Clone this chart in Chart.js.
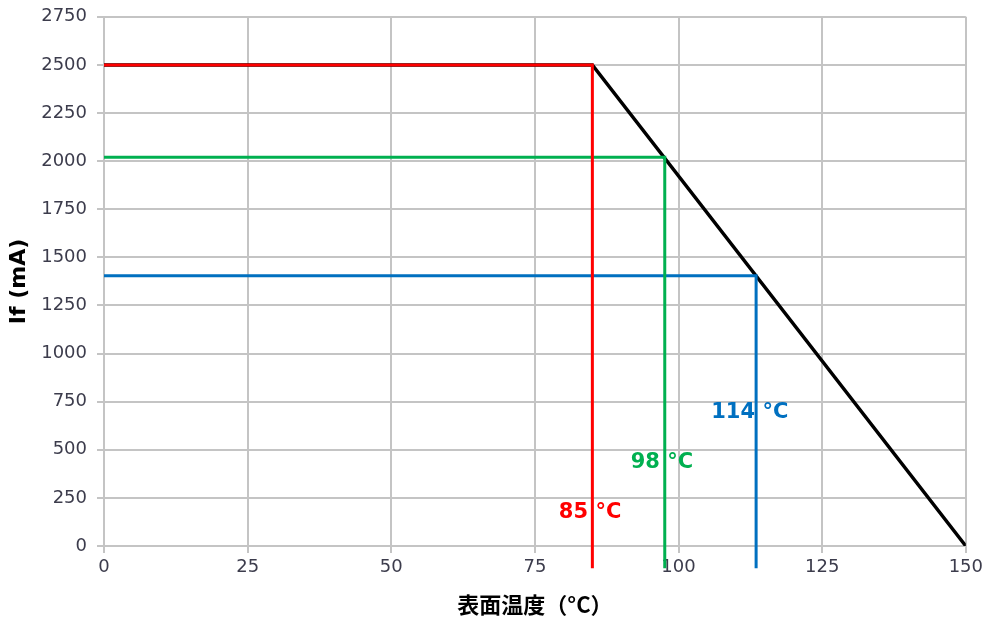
<!DOCTYPE html>
<html>
<head>
<meta charset="utf-8">
<script src="https://cdn.jsdelivr.net/npm/chart.js@4.4.1/dist/chart.umd.min.js"></script>
<style>
  html, body { margin: 0; padding: 0; background: #fff; overflow: hidden; }
  #page { width: 985px; height: 618px; position: relative; overflow: hidden; }
  #wrap { width: 987px; height: 622px; position: absolute; left: 0; top: -4px; }
</style>
</head>
<body>
<div id="page"><div id="wrap"><canvas id="derating"></canvas></div></div>
<script>
// --- Data ---
const xTicks = [0, 25, 50, 75, 100, 125, 150];
const yTicks = [0, 250, 500, 750, 1000, 1250, 1500, 1750, 2000, 2250, 2500, 2750];

// derating curve (black)
const curveTemp = [0, 85, 150];
const curveCurrent = [2500, 2500, 0];

// read-off guides: horizontal at current, then drop to below axis
const guideTemp = [85, 97.6, 113.5];
const guideCurrent = [2500, 2020, 1405];
const guideColors = ['#ff0000', '#00b050', '#0070c0'];
const guideBottom = -115; // lines run a bit past the x axis

// labels next to the drops
const labelTexts = ['85 °C', '98 °C', '114 °C'];
const labelTemp = [84.6, 97.1, 112.4];
const labelCurrent = [176, 436, 695];

const gridCol = '#c4c4c4';
const tickCol = '#3c3c4c';
const fontFam = '"DejaVu Sans", "Noto Sans CJK JP", sans-serif';
const cjkFam = '"Noto Sans CJK JP", "DejaVu Sans", sans-serif';

const datasets = [];
guideTemp.forEach((t, i) => {
    datasets.push({
        data: [{ x: 0, y: guideCurrent[i] }, { x: t, y: guideCurrent[i] }, { x: t, y: guideBottom }],
        borderColor: guideColors[i],
        borderWidth: 3,
        pointRadius: 0,
        clip: false,
        order: i + 1
    });
});
datasets.push({
    data: curveTemp.map((t, i) => ({ x: t, y: curveCurrent[i] })),
    borderColor: '#000000',
    borderWidth: 3.5,
    pointRadius: 0,
    order: 9
});

const labelPlugin = {
    id: 'tempLabels',
    afterDatasetsDraw(chart) {
        const { ctx, scales: { x, y } } = chart;
        ctx.save();
        ctx.font = 'bold 21px ' + fontFam;
        ctx.textAlign = 'center';
        ctx.textBaseline = 'middle';
        labelTexts.forEach((txt, i) => {
            ctx.fillStyle = guideColors[i];
            ctx.fillText(txt, x.getPixelForValue(labelTemp[i]), y.getPixelForValue(labelCurrent[i]));
        });
        ctx.restore();
    }
};

new Chart(document.getElementById('derating'), {
    type: 'line',
    data: { datasets },
    plugins: [labelPlugin],
    options: {
        responsive: true,
        maintainAspectRatio: false,
        animation: false,
        layout: { padding: { left: 0, right: 17, top: 13, bottom: 0 } },
        plugins: { legend: { display: false }, tooltip: { enabled: false } },
        scales: {
            x: {
                type: 'linear',
                min: xTicks[0],
                max: xTicks[xTicks.length - 1],
                afterBuildTicks: s => { s.ticks = xTicks.map(v => ({ value: v })); },
                afterFit: s => { s.height = 72; },
                grid: { color: gridCol, lineWidth: 2, tickLength: 7 },
                border: { color: gridCol, width: 2 },
                ticks: { color: tickCol, font: { family: fontFam, size: 18 }, padding: 4, callback: v => String(v) },
                title: { display: true, text: '表面温度（°C）', color: '#000', font: { family: cjkFam, size: 22, weight: 'bold' }, padding: { top: 0, bottom: 0 } }
            },
            y: {
                type: 'linear',
                min: yTicks[0],
                max: yTicks[yTicks.length - 1],
                afterBuildTicks: s => { s.ticks = yTicks.map(v => ({ value: v })); },
                afterFit: s => { s.width = 104; },
                grid: { color: gridCol, lineWidth: 2, tickLength: 7 },
                border: { color: gridCol, width: 2 },
                ticks: { color: tickCol, font: { family: fontFam, size: 18 }, padding: 10, callback: v => String(v) },
                title: { display: true, text: 'If (mA)', color: '#000', font: { family: fontFam, size: 22, weight: 'bold' }, padding: { top: 6, bottom: 4 } }
            }
        }
    }
});
</script>
</body>
</html>
